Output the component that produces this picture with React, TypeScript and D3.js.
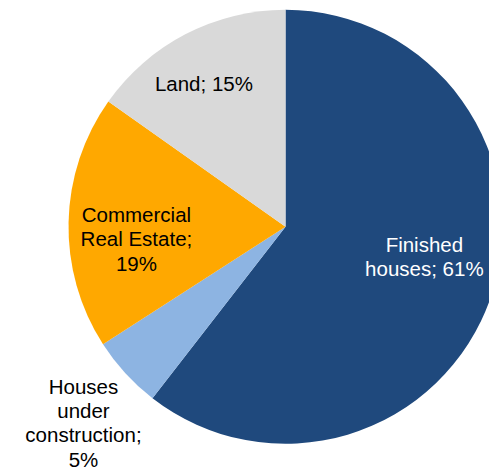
import React from "react";
import * as d3 from "d3";

const categories: string[] = ["Finished houses", "Houses under construction", "Commercial Real Estate", "Land"];
const values: number[] = [60.5, 5.4, 18.9, 15.2];
const labelLines: string[][] = [
  ["Finished", "houses; 61%"],
  ["Houses", "under", "construction;", "5%"],
  ["Commercial", "Real Estate;", "19%"],
  ["Land; 15%"],
];
const colors: string[] = ["#1F497D", "#8DB4E2", "#FFA800", "#D9D9D9"];
const labelColors: string[] = ["#FFFFFF", "#000000", "#000000", "#000000"];
// label block centres, as fractions of the radius relative to the pie centre
const labelFx: number[] = [0.64, -0.931, -0.687, -0.376];
const labelFy: number[] = [0.138, 0.903, 0.055, -0.659];

const W = 489;
const H = 470;
const CX = 285.5;
const CY = 226.8;
const R = 217;
const FONT = 20.5;
const LINE = 24.4;

export default function App() {
  const pie = d3
    .pie<number>()
    .sort(null)
    .value((d) => d)
    .startAngle(0)
    .endAngle(2 * Math.PI);
  const arcs = pie(values);
  const arc = d3.arc<d3.PieArcDatum<number>>().innerRadius(0).outerRadius(R);
  const fx = d3.scaleLinear().domain([-1, 1]).range([-R, R]);

  return (
    <svg
      width={W}
      height={H}
      style={{ position: "absolute", left: 0, top: 0, background: "#fff" }}
    >
      <g transform={`translate(${CX},${CY})`}>
        {arcs.map((a, i) => (
          <path key={categories[i]} d={arc(a) || ""} fill={colors[i]} />
        ))}
        {arcs.map((a, i) => {
          const lines = labelLines[i];
          const x = fx(labelFx[i]);
          const y = fx(labelFy[i]);
          const y0 = y - ((lines.length - 1) * LINE) / 2;
          return (
            <text
              key={"l" + i}
              textAnchor="middle"
              fill={labelColors[i]}
              fontFamily="'Liberation Sans', Arial, sans-serif"
              fontSize={FONT}
            >
              {lines.map((ln, j) => (
                <tspan key={j} x={x} y={y0 + j * LINE} dominantBaseline="central">
                  {ln}
                </tspan>
              ))}
            </text>
          );
        })}
      </g>
    </svg>
  );
}
